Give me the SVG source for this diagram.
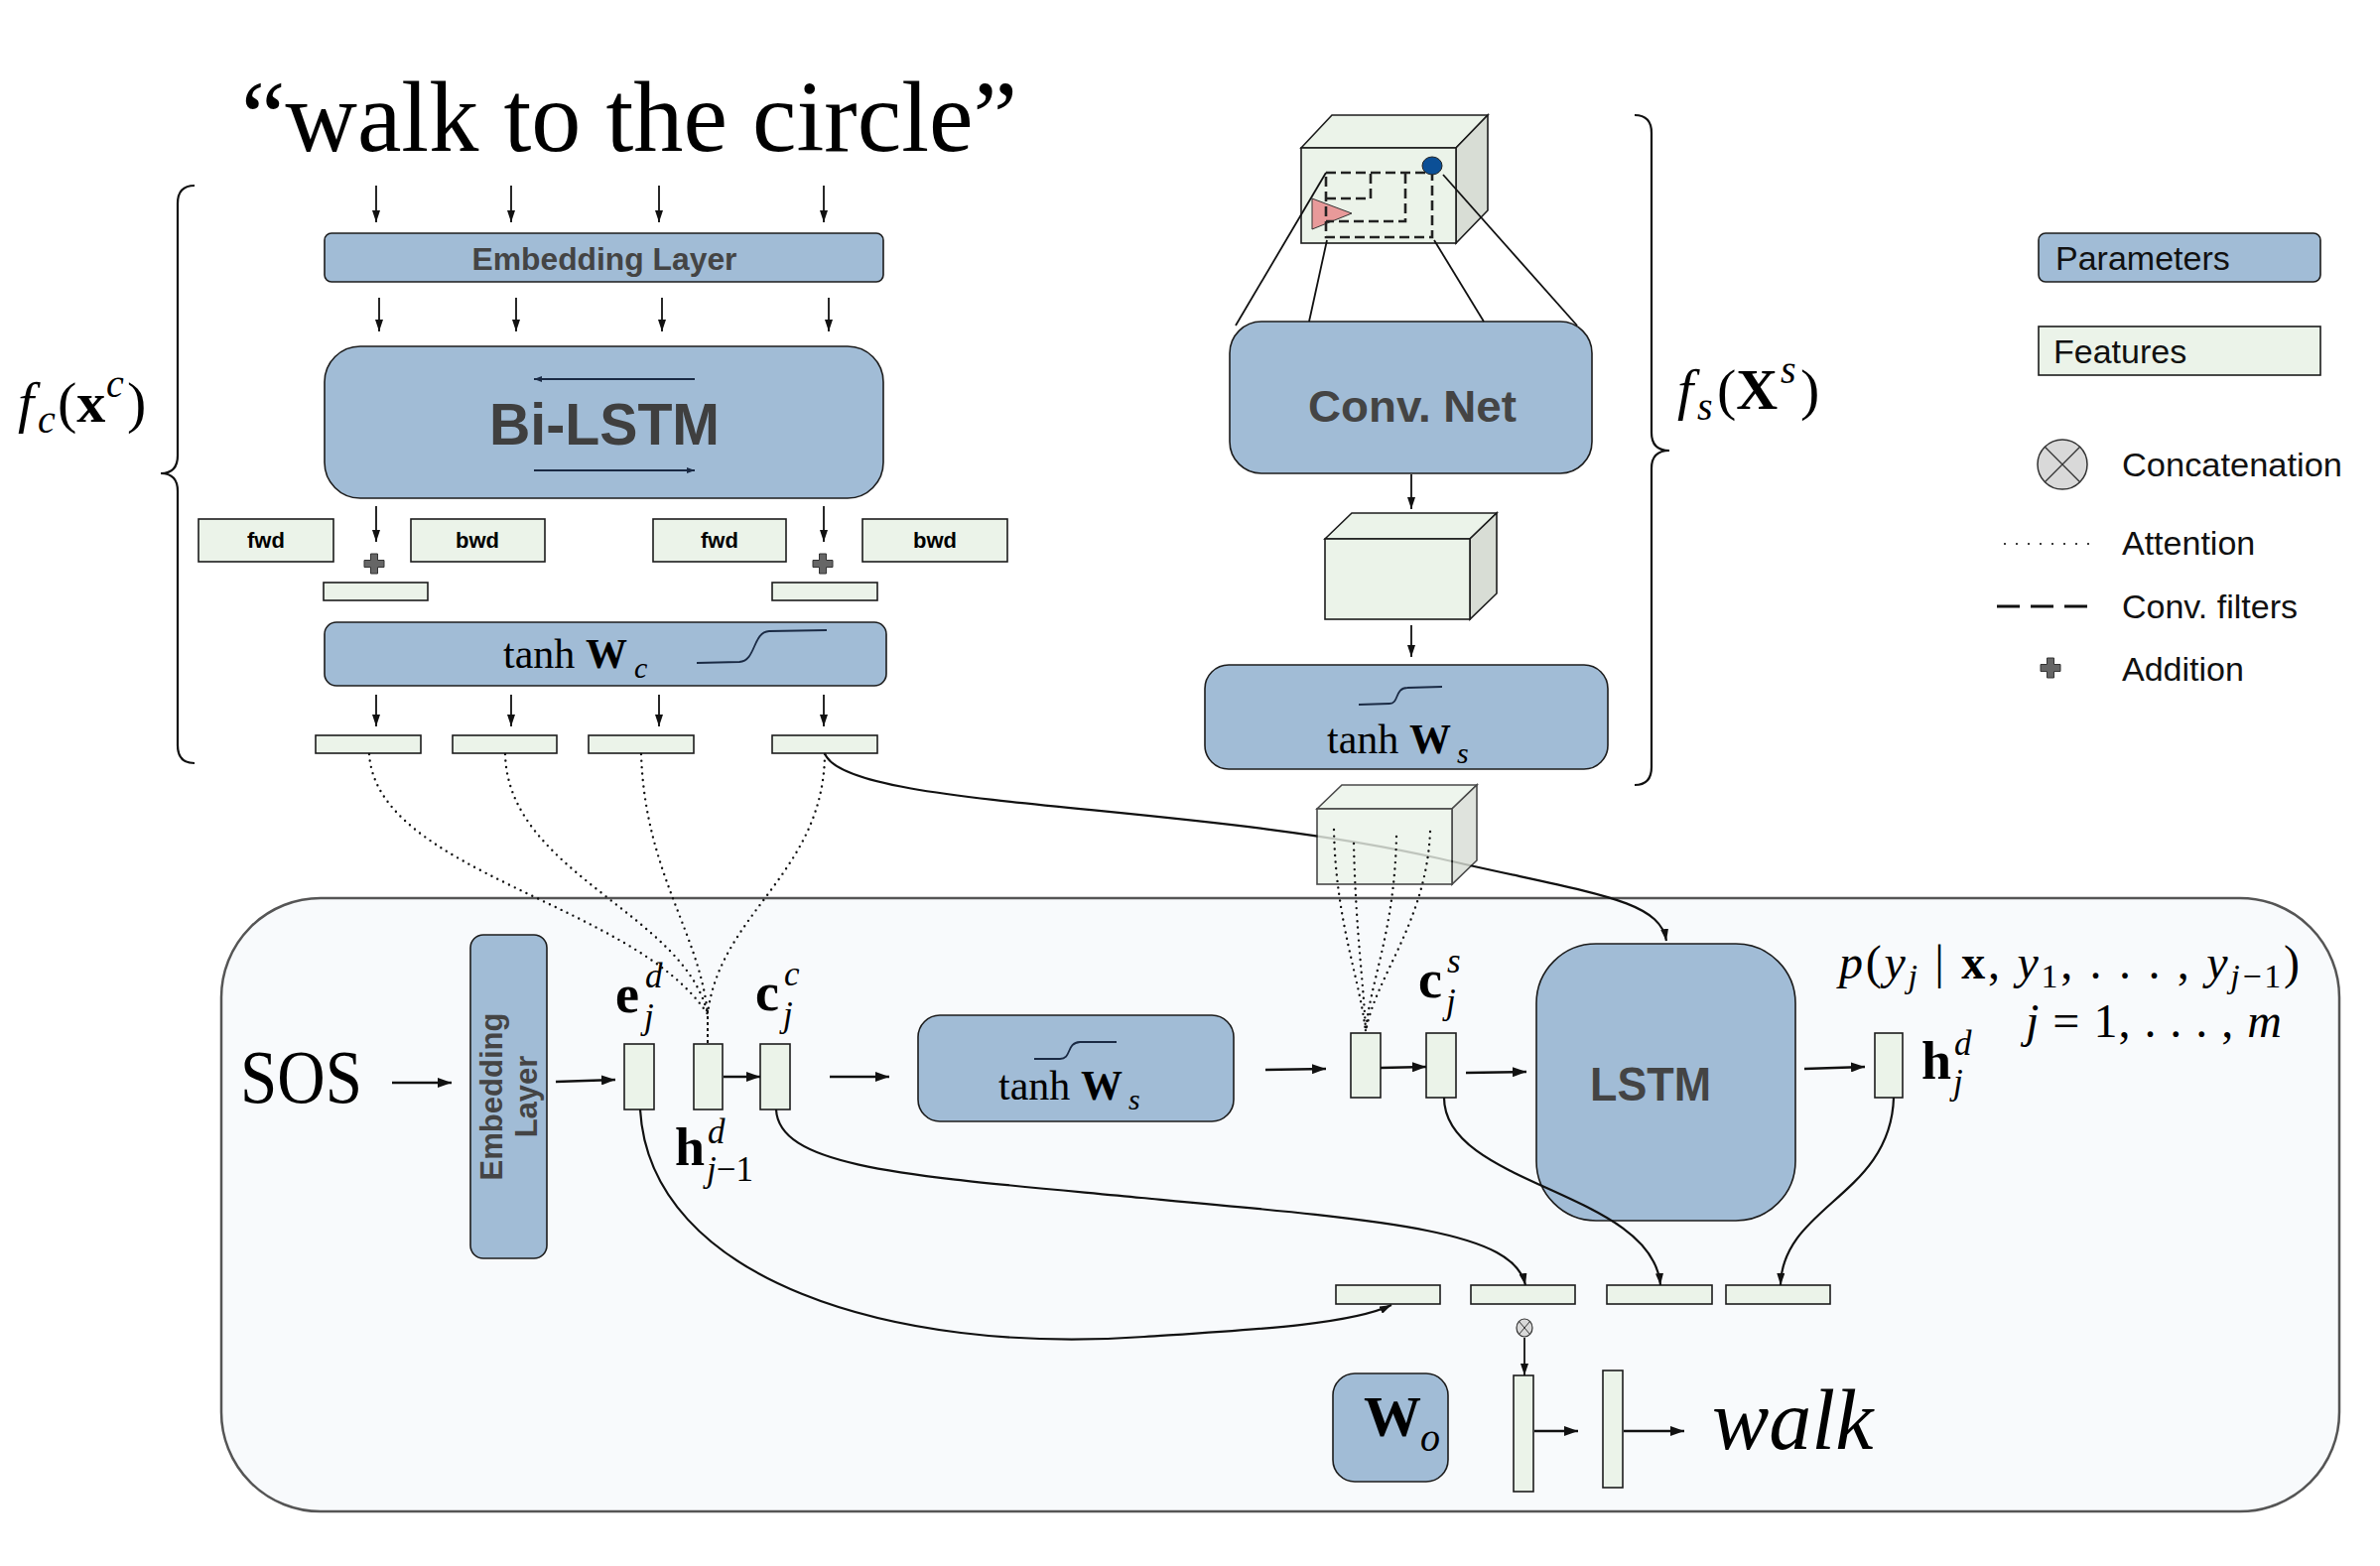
<svg xmlns="http://www.w3.org/2000/svg" width="2398" height="1578" viewBox="0 0 2398 1578">
<style>
.par{fill:#a1bcd6;stroke:#1c1c1c;stroke-width:1.6}
.fea{fill:#ebf3e9;stroke:#1c1c1c;stroke-width:1.6}
.side{fill:#d8ddd5;stroke:#1c1c1c;stroke-width:1.6}
.ln{fill:none;stroke:#111;stroke-width:1.8}
.th{fill:none;stroke:#111;stroke-width:2.6}
.cv{fill:none;stroke:#111;stroke-width:2.2}
.dot{fill:none;stroke:#111;stroke-width:2.4;stroke-dasharray:0 6.5;stroke-linecap:round}
.sig{fill:none;stroke:#1a2a44;stroke-width:1.8}
.sans{font-family:"Liberation Sans",Arial,sans-serif}
.bold{font-weight:bold}
.serif{font-family:"Liberation Serif","Times New Roman",serif}
.it{font-style:italic}
.lg{font-family:"Liberation Sans",Arial,sans-serif;font-size:34px;fill:#111}
</style>
<defs>
<marker id="a" markerUnits="userSpaceOnUse" viewBox="0 0 12 8" refX="12" refY="4" markerWidth="12" markerHeight="8" orient="auto"><path d="M0,0 L12,4 L0,8 Z" fill="#111"/></marker>
<marker id="b" markerUnits="userSpaceOnUse" viewBox="0 0 14 10" refX="14" refY="5" markerWidth="14" markerHeight="10" orient="auto"><path d="M0,0 L14,5 L0,10 Z" fill="#111"/></marker>
<marker id="n" markerUnits="userSpaceOnUse" viewBox="0 0 8 6" refX="8" refY="3" markerWidth="8" markerHeight="6" orient="auto"><path d="M0,0 L8,3 L0,6 Z" fill="#1a2a44"/></marker>
<path id="plus" d="M-3.5,-10 h7 v6.5 h6.5 v7 h-6.5 v6.5 h-7 v-6.5 h-6.5 v-7 h6.5 Z" fill="#666" stroke="#333" stroke-width="1"/>
</defs>
<rect x="0" y="0" width="2398" height="1578" fill="#fff"/>

<!-- Decoder background -->
<g id="decoder">
<rect x="223" y="905" width="2134" height="618" rx="100" ry="100" fill="#f8fafc" stroke="#555" stroke-width="2.5"/>
</g>

<!-- Title -->
<g id="title">
<text class="serif" x="243" y="152" font-size="102" textLength="782" lengthAdjust="spacingAndGlyphs">“walk to the circle”</text>
</g>

<!-- Braces and labels -->
<g id="brace-c">
<path class="cv" d="M196,187 Q179,187 179,205 L179,459 Q179,477 162,477 Q179,477 179,495 L179,751 Q179,769 196,769"/>
<text class="serif" y="425" font-size="58"><tspan x="18" class="it">f</tspan><tspan x="38" y="436" class="it" font-size="40">c</tspan><tspan x="58" y="425">(</tspan><tspan class="bold">x</tspan><tspan x="107" y="400" class="it" font-size="40">c</tspan><tspan x="128" y="425">)</tspan></text>
</g>
<g id="brace-s">
<path class="cv" d="M1647,116 Q1664,116 1664,134 L1664,436 Q1664,454 1682,454 Q1664,454 1664,472 L1664,773 Q1664,791 1647,791"/>
<text class="serif" y="412" font-size="58"><tspan x="1690" class="it">f</tspan><tspan x="1710" y="423" class="it" font-size="40">s</tspan><tspan x="1730" y="412">(</tspan><tspan class="bold">X</tspan><tspan x="1794" y="386" class="it" font-size="40">s</tspan><tspan x="1814" y="412">)</tspan></text>
</g>

<!-- Encoder: language -->
<g id="embedding-layer">
<rect class="par" x="327" y="235" width="563" height="49" rx="7"/>
<text class="sans bold" x="609" y="272" font-size="31" fill="#444" text-anchor="middle" textLength="267" lengthAdjust="spacingAndGlyphs">Embedding Layer</text>
</g>
<g id="bi-lstm">
<rect class="par" x="327" y="349" width="563" height="153" rx="36"/>
<text class="sans bold" x="609" y="448" font-size="60" fill="#3f3f3f" text-anchor="middle" textLength="232" lengthAdjust="spacingAndGlyphs">Bi-LSTM</text>
<line class="sig" x1="700" y1="382" x2="538" y2="382" marker-end="url(#n)"/>
<line class="sig" x1="538" y1="474" x2="700" y2="474" marker-end="url(#n)"/>
</g>
<g id="fwd1"><rect class="fea" x="200" y="523" width="136" height="43"/><text class="sans bold" x="268" y="552" font-size="22" text-anchor="middle">fwd</text></g>
<g id="bwd1"><rect class="fea" x="414" y="523" width="135" height="43"/><text class="sans bold" x="481" y="552" font-size="22" text-anchor="middle">bwd</text></g>
<g id="fwd2"><rect class="fea" x="658" y="523" width="134" height="43"/><text class="sans bold" x="725" y="552" font-size="22" text-anchor="middle">fwd</text></g>
<g id="bwd2"><rect class="fea" x="869" y="523" width="146" height="43"/><text class="sans bold" x="942" y="552" font-size="22" text-anchor="middle">bwd</text></g>
<g id="add1"><use href="#plus" x="377" y="568"/></g>
<g id="add2"><use href="#plus" x="829" y="568"/></g>
<g id="sum1"><rect class="fea" x="326" y="587" width="105" height="18"/></g>
<g id="sum2"><rect class="fea" x="778" y="587" width="106" height="18"/></g>
<g id="tanh-wc">
<rect class="par" x="327" y="627" width="566" height="64" rx="12"/>
<text class="serif" y="673" font-size="42"><tspan x="507">tanh</tspan><tspan x="590" class="bold">W</tspan><tspan x="639" y="683" class="it" font-size="30">c</tspan></text>
<path class="sig" d="M702,668 L745,667 C762,666 758,637 775,636 L833,635"/>
</g>
<g id="word-feat-1"><rect class="fea" x="318" y="741" width="106" height="18"/></g>
<g id="word-feat-2"><rect class="fea" x="456" y="741" width="105" height="18"/></g>
<g id="word-feat-3"><rect class="fea" x="593" y="741" width="106" height="18"/></g>
<g id="word-feat-4"><rect class="fea" x="778" y="741" width="106" height="18"/></g>

<!-- Encoder: visual -->
<g id="scene-cube">
<path class="fea" d="M1311,149 L1342,116 L1499,116 L1467,149 Z"/>
<path class="side" d="M1467,149 L1499,116 L1499,212 L1467,245 Z"/>
<rect class="fea" x="1311" y="149" width="156" height="96"/>
<polygon points="1322,200 1362,215 1322,231" fill="#e89a9a" stroke="#333" stroke-width="1"/>
<path d="M1336,174 H1443 V239 H1336 Z M1336,200 H1381 V175 M1416,175 V223 H1336" fill="none" stroke="#222" stroke-width="2.6" stroke-dasharray="10 5"/>
<ellipse cx="1443" cy="167" rx="10" ry="9" fill="#0b4f96" stroke="#222" stroke-width="1"/>
</g>
<g id="conv-net">
<rect class="par" x="1239" y="324" width="365" height="153" rx="32"/>
<text class="sans bold" x="1423" y="425" font-size="44" fill="#444" text-anchor="middle" textLength="210" lengthAdjust="spacingAndGlyphs">Conv. Net</text>
</g>
<g id="feature-cube">
<path class="fea" d="M1335,543 L1362,517 L1508,517 L1481,543 Z"/>
<path class="side" d="M1481,543 L1508,517 L1508,598 L1481,624 Z"/>
<rect class="fea" x="1335" y="543" width="146" height="81"/>
</g>
<g id="tanh-ws-enc">
<rect class="par" x="1214" y="670" width="406" height="105" rx="24"/>
<path class="sig" d="M1369,710 L1400,709 C1410,709 1405,693 1418,693 L1453,692"/>
<text class="serif" y="759" font-size="42"><tspan x="1337">tanh</tspan><tspan x="1420" class="bold">W</tspan><tspan x="1468" y="769" class="it" font-size="30">s</tspan></text>
</g>

<!-- Legend -->
<g id="legend-parameters"><rect class="par" x="2054" y="235" width="284" height="49" rx="7"/><text class="lg" x="2071" y="272">Parameters</text></g>
<g id="legend-features"><rect class="fea" x="2054" y="329" width="284" height="49"/><text class="lg" x="2069" y="366">Features</text></g>
<g id="legend-concat">
<circle cx="2078" cy="468" r="25" fill="#d9d9d9" stroke="#333" stroke-width="1.5"/>
<path d="M2060.3,450.3 L2095.7,485.7 M2095.7,450.3 L2060.3,485.7" stroke="#333" stroke-width="1.3"/>
<text class="lg" x="2138" y="480" textLength="222" lengthAdjust="spacingAndGlyphs">Concatenation</text>
</g>
<g id="legend-attention"><line x1="2020" y1="548" x2="2107" y2="548" stroke="#111" stroke-width="2.2" stroke-dasharray="0 12" stroke-linecap="round"/><text class="lg" x="2138" y="559">Attention</text></g>
<g id="legend-conv"><line x1="2012" y1="611" x2="2103" y2="611" stroke="#111" stroke-width="3" stroke-dasharray="23 11"/><text class="lg" x="2138" y="623">Conv. filters</text></g>
<g id="legend-addition"><use href="#plus" x="2066" y="673"/><text class="lg" x="2138" y="686">Addition</text></g>

<!-- Decoder nodes -->
<g id="sos"><text class="serif" x="242" y="1111" font-size="76" textLength="123" lengthAdjust="spacingAndGlyphs">SOS</text></g>
<g id="embedding-dec">
<rect class="par" x="474" y="942" width="77" height="326" rx="13"/>
<text class="sans bold" transform="translate(512,1105) rotate(-90)" font-size="31" fill="#444" text-anchor="middle"><tspan x="0" y="-6">Embedding</tspan><tspan x="0" y="29">Layer</tspan></text>
</g>
<g id="e-d"><rect class="fea" x="629" y="1052" width="30" height="66"/>
<text class="serif bold" x="620" y="1020" font-size="54">e</text><text class="serif it" x="650" y="995" font-size="35">d</text><text class="serif it" x="649" y="1036" font-size="35">j</text></g>
<g id="h-prev"><rect class="fea" x="699" y="1052" width="29" height="66"/>
<text class="serif bold" x="680" y="1174" font-size="54">h</text><text class="serif it" x="713" y="1152" font-size="35">d</text><text class="serif" x="712" y="1190" font-size="35"><tspan class="it">j</tspan>−1</text></g>
<g id="c-c"><rect class="fea" x="766" y="1052" width="30" height="66"/>
<text class="serif bold" x="761" y="1018" font-size="54">c</text><text class="serif it" x="790" y="993" font-size="35">c</text><text class="serif it" x="789" y="1034" font-size="35">j</text></g>
<g id="tanh-ws-dec">
<rect class="par" x="925" y="1023" width="318" height="107" rx="22"/>
<path class="sig" d="M1042,1067 L1068,1067 C1080,1067 1074,1051 1088,1050 L1125,1050"/>
<text class="serif" y="1108" font-size="42"><tspan x="1006">tanh</tspan><tspan x="1089" class="bold">W</tspan><tspan x="1137" y="1118" class="it" font-size="30">s</tspan></text>
</g>
<g id="attn-s"><rect class="fea" x="1361" y="1041" width="30" height="65"/></g>
<g id="c-s"><rect class="fea" x="1437" y="1041" width="30" height="65"/>
<text class="serif bold" x="1429" y="1005" font-size="54">c</text><text class="serif it" x="1458" y="980" font-size="35">s</text><text class="serif it" x="1457" y="1021" font-size="35">j</text></g>
<g id="lstm">
<rect class="par" x="1548" y="951" width="261" height="279" rx="60"/>
<text class="sans bold" x="1663" y="1109" font-size="48" fill="#444" text-anchor="middle" textLength="122" lengthAdjust="spacingAndGlyphs">LSTM</text>
</g>
<g id="h-d"><rect class="fea" x="1889" y="1041" width="28" height="65"/>
<text class="serif bold" x="1936" y="1087" font-size="54">h</text><text class="serif it" x="1969" y="1063" font-size="35">d</text><text class="serif it" x="1968" y="1102" font-size="35">j</text></g>
<g id="prob">
<text class="serif" y="986" font-size="48" textLength="464" lengthAdjust="spacing"><tspan x="1853" class="it">p</tspan><tspan>(</tspan><tspan class="it">y</tspan><tspan class="it" font-size="34" dy="9">j</tspan><tspan dy="-9"> | </tspan><tspan class="bold">x</tspan><tspan>, </tspan><tspan class="it">y</tspan><tspan font-size="34" dy="9">1</tspan><tspan dy="-9">, . . . , </tspan><tspan class="it">y</tspan><tspan font-size="34" dy="9"><tspan class="it">j</tspan>−1</tspan><tspan dy="-9">)</tspan></text>
<text class="serif" y="1045" font-size="48" textLength="258" lengthAdjust="spacing"><tspan x="2041" class="it">j</tspan><tspan> = 1, . . . , </tspan><tspan class="it">m</tspan></text>
</g>
<g id="concat-row">
<rect class="fea" x="1346" y="1295" width="105" height="19"/>
<rect class="fea" x="1482" y="1295" width="105" height="19"/>
<rect class="fea" x="1619" y="1295" width="106" height="19"/>
<rect class="fea" x="1739" y="1295" width="105" height="19"/>
</g>
<g id="concat-op">
<ellipse cx="1536" cy="1338" rx="8" ry="9" fill="#d9d9d9" stroke="#333" stroke-width="1.2"/>
<path d="M1530.5,1331.5 L1541.5,1344.5 M1541.5,1331.5 L1530.5,1344.5" stroke="#333" stroke-width="1"/>
</g>
<g id="w-o">
<rect class="par" x="1343" y="1384" width="116" height="109" rx="22"/>
<text class="serif bold" x="1374" y="1447" font-size="58">W</text><text class="serif it" x="1431" y="1462" font-size="40">o</text>
</g>
<g id="out-1"><rect class="fea" x="1525" y="1386" width="20" height="117"/></g>
<g id="out-2"><rect class="fea" x="1615" y="1381" width="20" height="118"/></g>
<g id="word"><text class="serif it" x="1725" y="1460" font-size="86">walk</text></g>

<!-- Connectors -->
<g id="connectors">
<line class="ln" x1="379" y1="187" x2="379" y2="224" marker-end="url(#a)"/>
<line class="ln" x1="515" y1="187" x2="515" y2="224" marker-end="url(#a)"/>
<line class="ln" x1="664" y1="187" x2="664" y2="224" marker-end="url(#a)"/>
<line class="ln" x1="830" y1="187" x2="830" y2="224" marker-end="url(#a)"/>
<line class="ln" x1="382" y1="300" x2="382" y2="334" marker-end="url(#a)"/>
<line class="ln" x1="520" y1="300" x2="520" y2="334" marker-end="url(#a)"/>
<line class="ln" x1="667" y1="300" x2="667" y2="334" marker-end="url(#a)"/>
<line class="ln" x1="835" y1="300" x2="835" y2="334" marker-end="url(#a)"/>
<line class="ln" x1="379" y1="510" x2="379" y2="546" marker-end="url(#a)"/>
<line class="ln" x1="830" y1="510" x2="830" y2="546" marker-end="url(#a)"/>
<line class="ln" x1="379" y1="700" x2="379" y2="732" marker-end="url(#a)"/>
<line class="ln" x1="515" y1="700" x2="515" y2="732" marker-end="url(#a)"/>
<line class="ln" x1="664" y1="700" x2="664" y2="732" marker-end="url(#a)"/>
<line class="ln" x1="830" y1="700" x2="830" y2="732" marker-end="url(#a)"/>
<line class="ln" x1="1422" y1="478" x2="1422" y2="513" marker-end="url(#a)"/>
<line class="ln" x1="1422" y1="630" x2="1422" y2="662" marker-end="url(#a)"/>
<line class="ln" stroke-width="1.3" x1="1336" y1="174" x2="1245" y2="328"/>
<line class="ln" stroke-width="1.3" x1="1337" y1="242" x2="1319" y2="324"/>
<line class="ln" stroke-width="1.3" x1="1445" y1="242" x2="1495" y2="324"/>
<line class="ln" stroke-width="1.3" x1="1454" y1="176" x2="1589" y2="328"/>
<path class="dot" d="M372,760 C380,880 640,910 713,1022"/>
<path class="dot" d="M509,760 C512,880 690,920 713,1022"/>
<path class="dot" d="M646,760 C650,880 705,940 713,1022"/>
<path class="dot" d="M831,760 C830,880 725,920 713,1022"/>
<line x1="713" y1="1018" x2="713" y2="1052" stroke="#111" stroke-width="2" stroke-dasharray="3 3"/>
<path class="cv" d="M831,759 C850,815 1200,808 1450,865 C1600,900 1672,905 1679,948" marker-end="url(#a)"/>
<line class="th" x1="395" y1="1091" x2="455" y2="1091" marker-end="url(#b)"/>
<line class="th" x1="560" y1="1090" x2="620" y2="1088" marker-end="url(#b)"/>
<line class="th" x1="729" y1="1085" x2="766" y2="1085" marker-end="url(#b)"/>
<line class="th" x1="836" y1="1085" x2="896" y2="1085" marker-end="url(#b)"/>
<line class="th" x1="1275" y1="1078" x2="1336" y2="1077" marker-end="url(#b)"/>
<line class="th" x1="1391" y1="1076" x2="1437" y2="1075" marker-end="url(#b)"/>
<line class="th" x1="1477" y1="1081" x2="1538" y2="1080" marker-end="url(#b)"/>
<line class="th" x1="1818" y1="1077" x2="1879" y2="1075" marker-end="url(#b)"/>
<path class="cv" d="M645,1118 C655,1290 900,1365 1153,1347 C1260,1340 1360,1335 1402,1315" marker-end="url(#a)"/>
<path class="cv" d="M782,1118 C785,1178 920,1185 1150,1207 C1400,1230 1525,1240 1537,1295" marker-end="url(#a)"/>
<path class="cv" d="M1455,1106 C1455,1195 1665,1200 1673,1295" marker-end="url(#a)"/>
<path class="cv" d="M1908,1106 C1905,1205 1796,1215 1794,1295" marker-end="url(#a)"/>
<line class="ln" x1="1536" y1="1348" x2="1536" y2="1386" marker-end="url(#a)"/>
<line class="th" x1="1546" y1="1442" x2="1590" y2="1442" marker-end="url(#b)"/>
<line class="th" x1="1636" y1="1442" x2="1697" y2="1442" marker-end="url(#b)"/>
</g>

<!-- Spatial feature cube (drawn over the context line) -->
<g id="spatial-cube" opacity="0.8">
<path class="fea" d="M1327,815 L1352,791 L1488,791 L1463,815 Z"/>
<path class="side" d="M1463,815 L1488,791 L1488,867 L1463,891 Z"/>
<rect class="fea" x="1327" y="815" width="136" height="76"/>
</g>
<g id="spatial-attention">
<path class="dot" d="M1344,836 C1346,930 1370,985 1376,1040"/>
<path class="dot" d="M1364,850 C1366,940 1374,990 1376,1040"/>
<path class="dot" d="M1407,843 C1405,940 1380,990 1376,1040"/>
<path class="dot" d="M1441,838 C1437,930 1385,985 1376,1040"/>
</g>
</svg>
